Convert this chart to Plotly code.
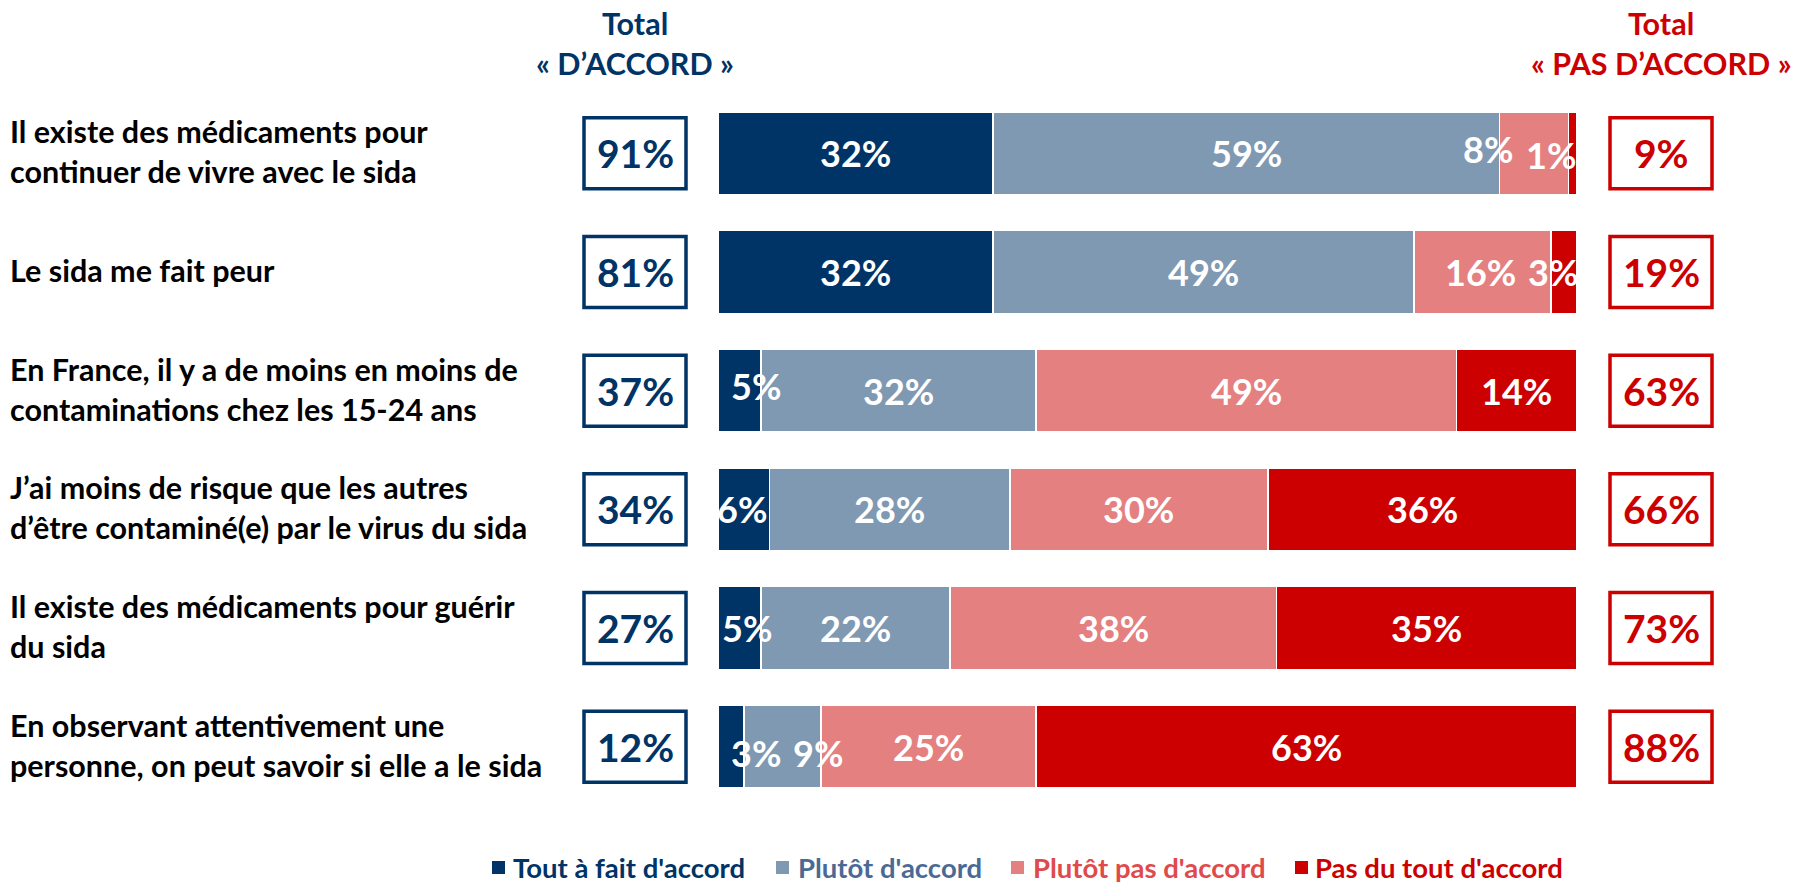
import plotly.graph_objects as go

categories = [
    "Il existe des médicaments pour<br>continuer de vivre avec le sida",
    "Le sida me fait peur",
    "En France, il y a de moins en moins de<br>contaminations chez les 15-24 ans",
    "J’ai moins de risque que les autres<br>d’être contaminé(e) par le virus du sida",
    "Il existe des médicaments pour guérir<br>du sida",
    "En observant attentivement une<br>personne, on peut savoir si elle a le sida",
]
series_names = ["Tout à fait d'accord", "Plutôt d'accord", "Plutôt pas d'accord", "Pas du tout d'accord"]
tout_a_fait = [32, 32, 5, 6, 5, 3]
plutot = [59, 49, 32, 28, 22, 9]
plutot_pas = [8, 16, 49, 30, 38, 25]
pas_du_tout = [1, 3, 14, 36, 35, 63]

series_values = [tout_a_fait, plutot, plutot_pas, pas_du_tout]
bar_colors = ["#003366", "#7F99B2", "#E48080", "#CC0000"]
legend_text_colors = ["#003366", "#4A6A95", "#E04A4A", "#CC0000"]
BLUE = "#003366"
RED = "#CC0000"
FONT = "Lato"

# layout geometry (pixels of the 1798x884 page)
W, H = 1798, 884
L, R, T, B = 718, 221, 94, 78
PW, PH = W - L - R, H - T - B


def px_x(px):
    return (px - L) / PW


def px_y(py):
    return (H - B - py) / PH


# manual label nudges (px) for crowded labels: (row, series) -> (dx, dy)
label_nudge = {
    (0, 2): (-46, 4), (0, 3): (-22, -2),
    (1, 2): (-2, 0), (1, 3): (-11, 0),
    (2, 0): (17, 5),
    (3, 0): (-2, 0),
    (4, 0): (8, 0),
    (5, 0): (25, -6), (5, 1): (36, -6),
}
# legend layout: square left edge / text left edge (px)
legend_square_px = [492, 776, 1011, 1295]
legend_text_px = [512, 797, 1032, 1314]
LEG_Y = 867

n = len(categories)
ypos = list(range(n))

fig = go.Figure()
for name, vals, col in zip(series_names, series_values, bar_colors):
    fig.add_trace(go.Bar(
        y=ypos, x=vals, orientation="h", width=0.697, name=name,
        marker=dict(color=col, line=dict(color="white", width=1.5)),
        hoverinfo="skip", showlegend=False,
    ))

annotations = []
shapes = []
# bar labels
for i in range(n):
    cum = 0
    for s, vals in enumerate(series_values):
        v = vals[i]
        dx, dy = label_nudge.get((i, s), (0, 0))
        annotations.append(dict(
            x=cum + v / 2, y=i, xref="x", yref="y", text=f"{v}%", showarrow=False,
            xshift=dx, yshift=dy, xanchor="center", yanchor="middle",
            font=dict(family=FONT, size=36, color="white", weight="bold"),
        ))
        cum += v

BOX_L = (px_x(584), px_x(686))
BOX_R = (px_x(1610), px_x(1712))
for i in range(n):
    agree = tout_a_fait[i] + plutot[i]
    disagree = plutot_pas[i] + pas_du_tout[i]
    shapes.append(dict(type="rect", xref="paper", yref="y", x0=BOX_L[0], x1=BOX_L[1],
                       y0=i - 0.299, y1=i + 0.299, line=dict(color=BLUE, width=3.5), fillcolor="white"))
    shapes.append(dict(type="rect", xref="paper", yref="y", x0=BOX_R[0], x1=BOX_R[1],
                       y0=i - 0.299, y1=i + 0.299, line=dict(color=RED, width=3.5), fillcolor="white"))
    annotations.append(dict(x=(BOX_L[0] + BOX_L[1]) / 2, y=i, xref="paper", yref="y", text=f"{agree}%",
                            showarrow=False, xanchor="center", yanchor="middle",
                            font=dict(family=FONT, size=39, color=BLUE, weight="bold")))
    annotations.append(dict(x=(BOX_R[0] + BOX_R[1]) / 2, y=i, xref="paper", yref="y", text=f"{disagree}%",
                            showarrow=False, xanchor="center", yanchor="middle",
                            font=dict(family=FONT, size=39, color=RED, weight="bold")))
    annotations.append(dict(x=px_x(8), y=i, xref="paper", yref="y", text=categories[i], showarrow=False,
                            xanchor="left", align="left", yanchor="middle", yshift=2,
                            font=dict(family=FONT, size=30.5, color="black", weight="bold")))

# headers
for xc, col, l2 in [(px_x(635), BLUE, "« D’ACCORD »"), (px_x(1661), RED, "« PAS D’ACCORD »")]:
    annotations.append(dict(x=xc, y=px_y(23), xref="paper", yref="paper", text="Total", showarrow=False,
                            xanchor="center", yanchor="middle",
                            font=dict(family=FONT, size=30.5, color=col, weight="bold")))
    annotations.append(dict(x=xc, y=px_y(63), xref="paper", yref="paper", text=l2, showarrow=False,
                            xanchor="center", yanchor="middle",
                            font=dict(family=FONT, size=30.5, color=col, weight="bold")))

# legend (drawn manually so that it stays on one line)
for name, col, tcol, sx, tx in zip(series_names, bar_colors, legend_text_colors,
                                   legend_square_px, legend_text_px):
    shapes.append(dict(type="rect", xref="paper", yref="paper", x0=px_x(sx), x1=px_x(sx + 13),
                       y0=px_y(LEG_Y + 7), y1=px_y(LEG_Y - 6), line=dict(width=0), fillcolor=col))
    annotations.append(dict(x=px_x(tx), y=px_y(LEG_Y), xref="paper", yref="paper", text=name,
                            showarrow=False, xanchor="left", yanchor="middle", borderpad=0,
                            font=dict(family=FONT, size=27.5, color=tcol, weight="bold")))

fig.update_layout(
    width=W, height=H,
    margin=dict(l=L, r=R, t=T, b=B),
    barmode="stack",
    plot_bgcolor="white", paper_bgcolor="white",
    xaxis=dict(range=[0, 100], visible=False, fixedrange=True),
    yaxis=dict(range=[n - 0.5, -0.5], visible=False, fixedrange=True),
    showlegend=False,
    annotations=annotations,
    shapes=shapes,
)

fig.write_html("out.html", config={"displayModeBar": False},
               post_script="document.body.style.margin='0';document.body.style.overflow='hidden';")
